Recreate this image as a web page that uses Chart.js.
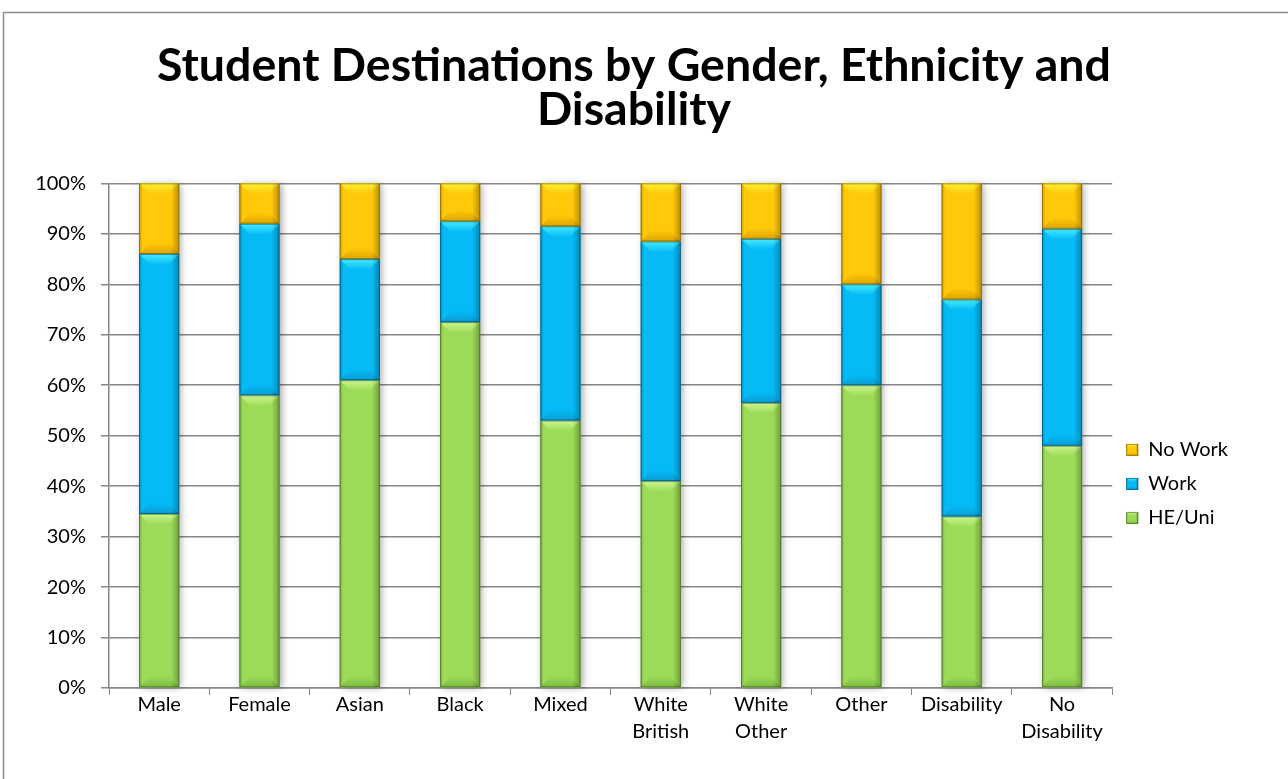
<!DOCTYPE html>
<html>
<head>
<meta charset="utf-8">
<script src="https://cdn.jsdelivr.net/npm/chart.js@4.4.1/dist/chart.umd.min.js"></script>
<style>
  html, body { margin: 0; padding: 0; background: #fff; overflow: hidden; }
  canvas { display: block; }
</style>
</head>
<body>
<canvas id="chart" width="1288" height="779"></canvas>
<script>
// Destination shares (percent of students) per group
const categories = [['Male'], ['Female'], ['Asian'], ['Black'], ['Mixed'],
                    ['White', 'British'], ['White', 'Other'], ['Other'], ['Disability'], ['No', 'Disability']];
const heUni  = [34.5, 58, 61, 72.5, 53, 41, 56.5, 60, 34, 48];
const work   = [51.5, 34, 24, 20, 38.5, 47.5, 32.5, 20, 43, 43];
const noWork = [14, 8, 15, 7.5, 8.5, 11.5, 11, 20, 23, 9];
const seriesNames = ['HE/Uni', 'Work', 'No Work'];
const titleLines = ['Student Destinations by Gender, Ethnicity and', 'Disability'];

const FONT = 'Lato, "Open Sans", sans-serif';

// fill + bevel shades for each series (bottom to top of stack)
const palette = [
  { fill: '#9BDB57', light: '#CDF58F', dark: '#7DBB42', edge: 'rgba(60,90,20,0.55)' },
  { fill: '#05BAF5', light: '#45EBFF', dark: '#0A9ED6', edge: 'rgba(0,60,100,0.55)' },
  { fill: '#FFC808', light: '#FFF030', dark: '#DDA600', edge: 'rgba(110,80,0,0.55)' }
];

// plain frame round the chart
const framePlugin = {
  id: 'frame',
  beforeDraw(chart) {
    const ctx = chart.ctx;
    ctx.save();
    ctx.fillStyle = '#fff';
    ctx.fillRect(0, 0, chart.width, chart.height);
    ctx.strokeStyle = '#8a8a8a';
    ctx.lineWidth = 1.5;
    ctx.beginPath();
    ctx.moveTo(3.5, chart.height + 5);
    ctx.lineTo(3.5, 12.5);
    ctx.lineTo(chart.width + 5, 12.5);
    ctx.stroke();
    ctx.restore();
  }
};

// soft drop shadow behind each stacked column
const shadowPlugin = {
  id: 'columnShadow',
  beforeDatasetsDraw(chart) {
    const ctx = chart.ctx;
    const first = chart.getDatasetMeta(0).data;
    const last = chart.getDatasetMeta(chart.data.datasets.length - 1).data;
    ctx.save();
    ctx.shadowColor = 'rgba(0,0,0,0.35)';
    ctx.shadowBlur = 7;
    ctx.shadowOffsetX = 2;
    ctx.shadowOffsetY = 1;
    ctx.fillStyle = '#bbb';
    first.forEach((el, i) => {
      const p = el.getProps(['x', 'base', 'width'], true);
      const top = last[i].getProps(['y'], true).y;
      ctx.fillRect(p.x - p.width / 2, top, p.width, p.base - top);
    });
    ctx.restore();
  }
};

// angled bevel on every segment: light top, darker foot and shaded sides
function drawBevel(ctx, l, t, r, b, st, maxDepth) {
  const h = b - t;
  if (h < 1) return;
  const d = Math.min(maxDepth, h / 2.6, (r - l) / 3);
  ctx.save();
  let g = ctx.createLinearGradient(0, t, 0, t + d);
  g.addColorStop(0, st.light);
  g.addColorStop(1, st.fill);
  ctx.fillStyle = g;
  ctx.beginPath();
  ctx.moveTo(l, t); ctx.lineTo(r, t); ctx.lineTo(r - d, t + d); ctx.lineTo(l + d, t + d);
  ctx.closePath(); ctx.fill();
  g = ctx.createLinearGradient(0, b - d, 0, b);
  g.addColorStop(0, st.fill);
  g.addColorStop(1, st.dark);
  ctx.fillStyle = g;
  ctx.beginPath();
  ctx.moveTo(l, b); ctx.lineTo(r, b); ctx.lineTo(r - d, b - d); ctx.lineTo(l + d, b - d);
  ctx.closePath(); ctx.fill();
  g = ctx.createLinearGradient(l, 0, r, 0);
  g.addColorStop(0, 'rgba(0,0,0,0.22)');
  g.addColorStop(0.08, 'rgba(0,0,0,0)');
  g.addColorStop(0.8, 'rgba(0,0,0,0)');
  g.addColorStop(1, 'rgba(0,0,0,0.28)');
  ctx.fillStyle = g;
  ctx.fillRect(l, t, r - l, h);
  ctx.strokeStyle = st.edge;
  ctx.lineWidth = 1;
  ctx.strokeRect(l + 0.5, t + 0.5, r - l - 1, h - 1);
  ctx.restore();
}

const bevelPlugin = {
  id: 'bevel',
  afterDatasetsDraw(chart) {
    const ctx = chart.ctx;
    chart.data.datasets.forEach((ds, di) => {
      chart.getDatasetMeta(di).data.forEach(el => {
        const p = el.getProps(['x', 'y', 'base', 'width'], true);
        drawBevel(ctx, p.x - p.width / 2, Math.min(p.y, p.base), p.x + p.width / 2, Math.max(p.y, p.base), palette[di], 11);
      });
    });
  },
  // bevel the little legend swatches too
  afterDraw(chart) {
    const legend = chart.legend;
    if (!legend || !legend.legendHitBoxes) return;
    const ctx = chart.ctx;
    const opts = legend.options.labels;
    legend.legendItems.forEach((item, i) => {
      const hb = legend.legendHitBoxes[i];
      const fs = opts.font.size;
      const top = hb.top + (fs - opts.boxHeight) / 2;
      const st = palette[item.datasetIndex];
      drawBevel(ctx, hb.left, top, hb.left + opts.boxWidth, top + opts.boxHeight, st, 4);
    });
  }
};

const datasets = [heUni, work, noWork].map((values, i) => ({
  label: seriesNames[i],
  data: values,
  backgroundColor: palette[i].fill,
  borderColor: palette[i].dark,
  borderWidth: 0,
  barPercentage: 0.4,
  categoryPercentage: 1.0
}));

new Chart(document.getElementById('chart'), {
  type: 'bar',
  data: { labels: categories, datasets },
  options: {
    responsive: false,
    animation: false,
    devicePixelRatio: 1,
    layout: { padding: { left: 30, right: 50, top: 0, bottom: 0 } },
    plugins: {
      title: {
        display: true,
        text: titleLines,
        color: '#000',
        font: { family: FONT, size: 46.5, weight: 'bold', lineHeight: 0.95 },
        padding: { top: 44, bottom: 51 }
      },
      legend: {
        position: 'right',
        reverse: true,
        title: { display: true, text: ' ', font: { size: 4 }, padding: { top: 184, bottom: 0 } },
        labels: {
          color: '#000',
          font: { family: FONT, size: 20 },
          boxWidth: 12,
          boxHeight: 12,
          padding: 14
        }
      },
      tooltip: { enabled: false }
    },
    scales: {
      x: {
        stacked: true,
        grid: { display: true, drawOnChartArea: false, drawTicks: true, tickLength: 7, color: '#878787', offset: true },
        border: { color: '#878787', width: 1.5 },
        ticks: { color: '#000', font: { family: FONT, size: 20, lineHeight: 1.35 }, padding: -4, maxRotation: 0, autoSkip: false },
        afterFit(scale) { scale.height = 779 - 688; }
      },
      y: {
        stacked: true,
        min: 0,
        max: 100,
        grid: { color: '#878787', lineWidth: 1.5, tickLength: 8, drawTicks: true },
        border: { color: '#878787', width: 1.5 },
        ticks: { stepSize: 10, color: '#000', font: { family: FONT, size: 20 }, padding: 15, callback: v => v + '%' },
        afterFit(scale) { scale.width = 79; }
      }
    }
  },
  plugins: [framePlugin, shadowPlugin, bevelPlugin]
});
</script>
</body>
</html>
